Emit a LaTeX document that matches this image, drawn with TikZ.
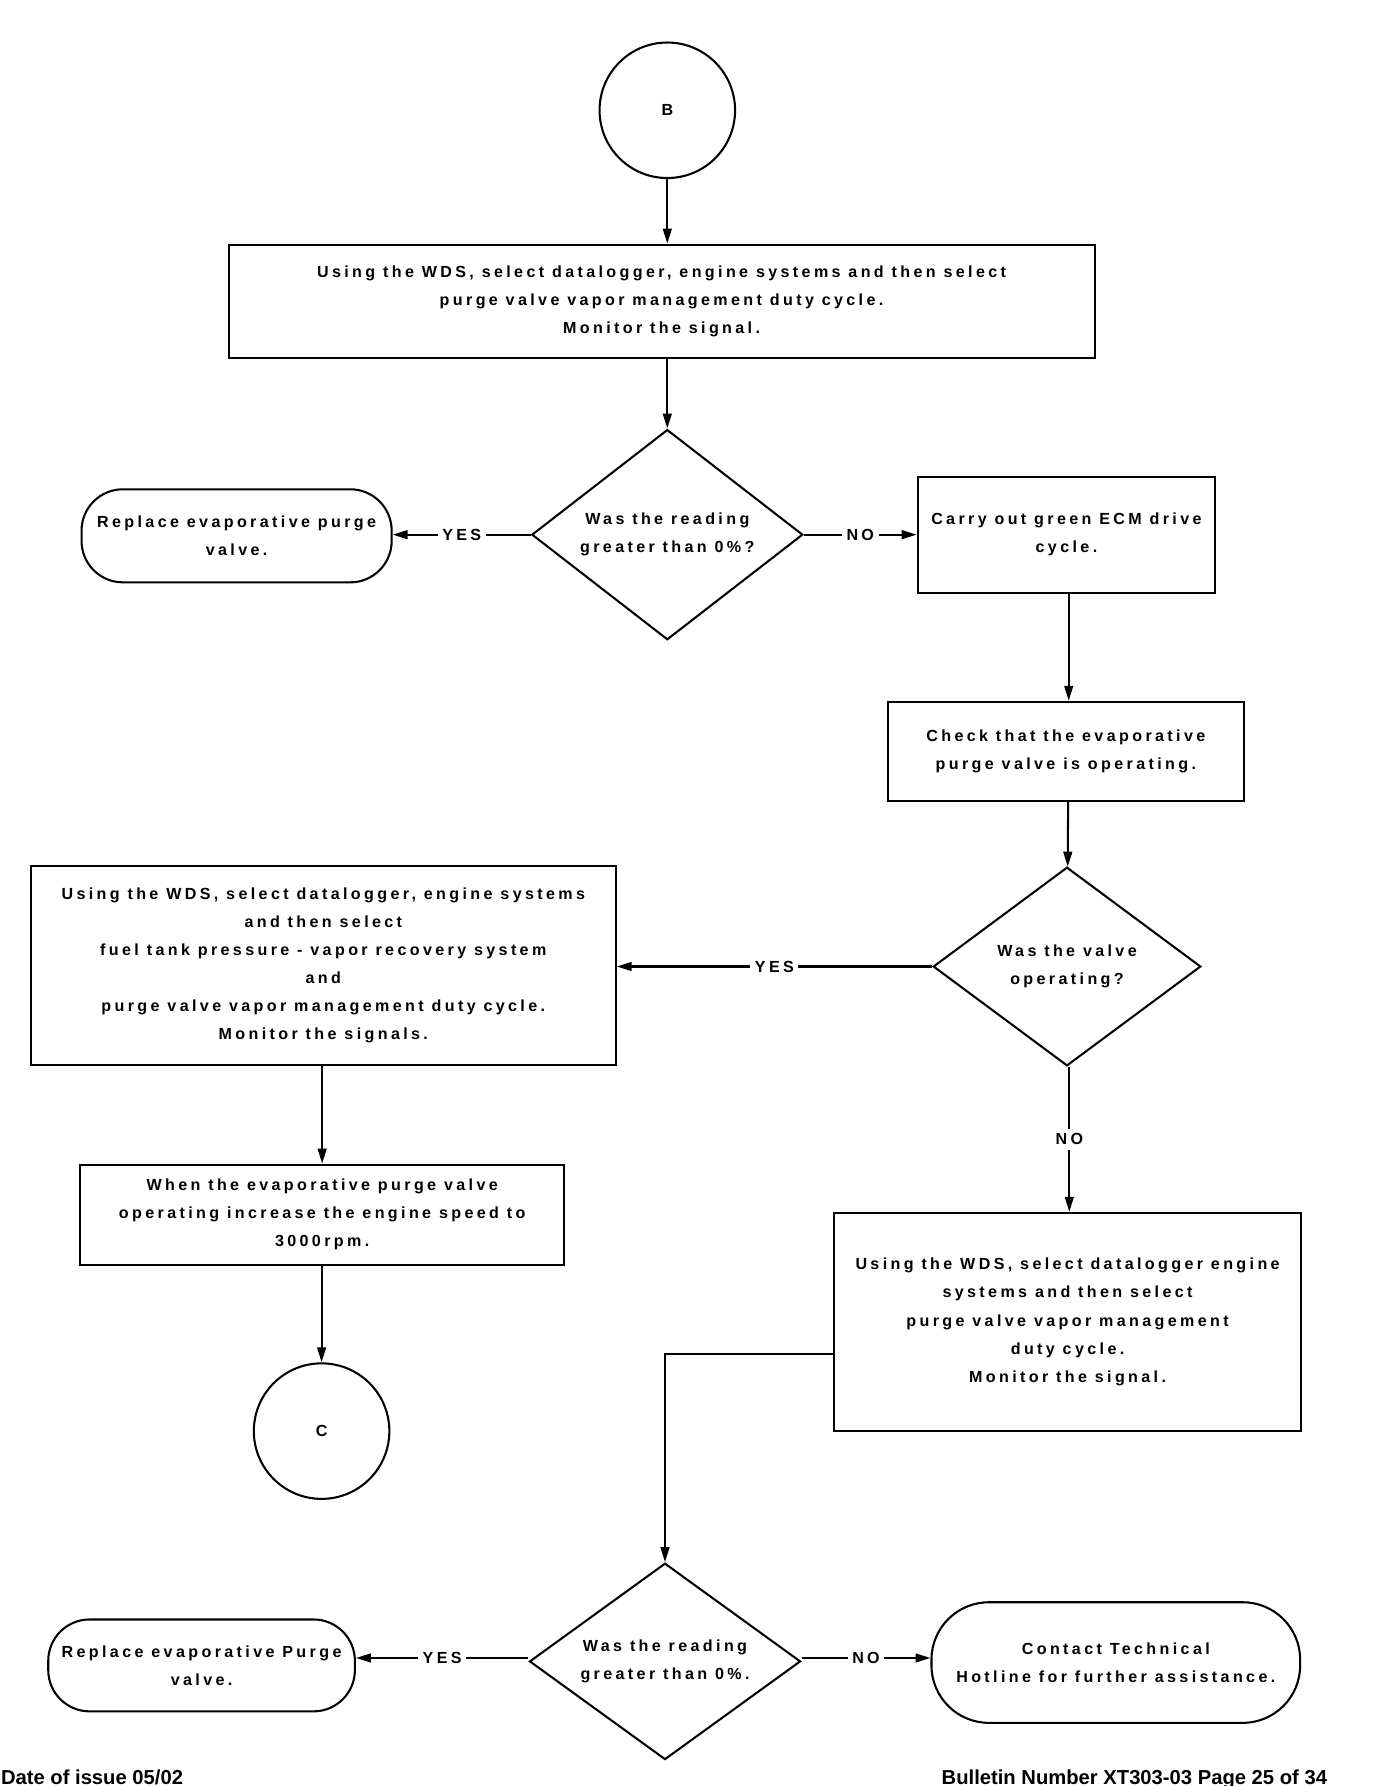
\documentclass[tikz,border=0pt]{standalone}
\usepackage{fontspec}
\usetikzlibrary{arrows.meta,shapes.geometric}
\newfontfamily\chartfont{Liberation Sans}[LetterSpace=21]
\newfontfamily\footfont{Liberation Sans}

\begin{document}
\begin{tikzpicture}[x=0.5pt,y=0.5pt,yscale=-1,xscale=1,
  every path/.style={line width=0.9pt},
  txt/.style={font=\fontsize{7}{12.25}\chartfont\bfseries,align=center,inner sep=0pt},
  procbox/.style={txt,draw,rectangle},
  termbox/.style={txt,draw,rectangle,rounded corners=18pt},
  decbox/.style={txt,draw,diamond,aspect=1.3},
  joinbox/.style={txt,draw,circle,minimum size=59pt},
  lab/.style={font=\fontsize{7}{8}\chartfont\bfseries,fill=white,inner sep=2pt},
  flow/.style={-{Triangle[length=6.5pt,width=3.8pt]}}]
\useasboundingbox (0,0) rectangle (1212,1555);

% Connectors
\draw (581,96) node (B) [joinbox] {B};
\draw (576,262.5) node (box1) [procbox,minimum width=377pt,minimum height=49.5pt]
  {Using the WDS, select datalogger, engine systems and then select\\purge valve vapor management duty cycle.\\Monitor the signal.};
\draw (581,465.5) node (dec1) [decbox,minimum width=118pt,minimum height=91.5pt]
  {Was the reading\\greater than 0\%?};
\draw (206,466.5) node (term1) [termbox,minimum width=135pt,minimum height=40.5pt]
  {Replace evaporative purge\\valve.};
\draw (928.5,465.5) node (box2) [procbox,minimum width=129.5pt,minimum height=50.5pt]
  {Carry out green ECM drive\\cycle.};
\draw (928,654) node (box3) [procbox,minimum width=155pt,minimum height=43pt]
  {Check that the evaporative\\purge valve is operating.};
\draw (929,841.5) node (dec2) [decbox,minimum width=116.5pt,minimum height=86.5pt]
  {Was the valve\\operating?};
\draw (281.5,840.5) node (box4) [procbox,minimum width=254.5pt,minimum height=86.5pt]
  {Using the WDS, select datalogger, engine systems\\and then select\\fuel tank pressure - vapor recovery system\\and\\purge valve vapor management duty cycle.\\Monitor the signals.};
\draw (280.5,1057.5) node (box5) [procbox,minimum width=210.5pt,minimum height=43.5pt]
  {When the evaporative purge valve\\operating increase the engine speed to\\3000rpm.};
\draw (280,1246) node (C) [joinbox] {C};
\draw (929.5,1151) node (box6) [procbox,minimum width=203.5pt,minimum height=95pt]
  {Using the WDS, select datalogger engine\\systems and then select\\purge valve vapor management\\duty cycle.\\Monitor the signal.};
\draw (579,1446.5) node (dec3) [decbox,minimum width=118pt,minimum height=85.5pt]
  {Was the reading\\greater than 0\%.};
\draw (175.5,1450) node (term2) [termbox,minimum width=133.5pt,minimum height=40pt]
  {Replace evaporative Purge\\valve.};
\draw (971.5,1447.5) node (term3) [termbox,rounded corners=25pt,minimum width=160.5pt,minimum height=52.5pt]
  {Contact Technical\\Hotline for further assistance.};

\draw[flow] (B) -- (B |- box1.north);
\draw[flow] (box1.south -| B) -- (dec1);
\draw[flow] (dec1.west) -- (dec1.west -| term1.east) node[lab,midway] {YES};
\draw[flow] (dec1.east) -- (dec1.east -| box2.west) node[lab,midway] {NO};
\draw[flow] ([xshift=1pt]box2.south) -- ([xshift=1pt]box2.south |- box3.north);
\draw[flow] ([xshift=1pt]box3.south) -- (dec2);
\draw[flow] (dec2.west) -- (dec2.west -| box4.east) node[lab,midway] {YES};
\draw[flow] (box4.south -| box5) -- (box5);
\draw[flow] (box5.south -| C) -- (C);
\draw[flow] ([xshift=1pt]dec2.south) -- ([xshift=1pt]dec2.south |- box6.north) node[lab,midway] {NO};
\draw[flow] ([yshift=14pt]box6.west) -| (dec3.north);
\draw[flow] ([yshift=-1.5pt]dec3.west) -- ([yshift=-1.5pt]dec3.west -| term2.east) node[lab,midway] {YES};
\draw[flow] ([yshift=-1.5pt]dec3.east) -- ([yshift=-1.5pt]dec3.east -| term3.west) node[lab,midway] {NO};

% Text Node
\draw (0,1554) node (issue) [anchor=base west,inner sep=0pt,font=\fontsize{8.8}{10}\footfont\bfseries] {Date of issue 05/02};
% Text Node
\draw (819,1554) node (bulletin) [anchor=base west,inner sep=0pt,font=\fontsize{8.8}{10}\footfont\bfseries] {Bulletin Number XT303-03 Page 25 of 34};
\end{tikzpicture}
\end{document}
